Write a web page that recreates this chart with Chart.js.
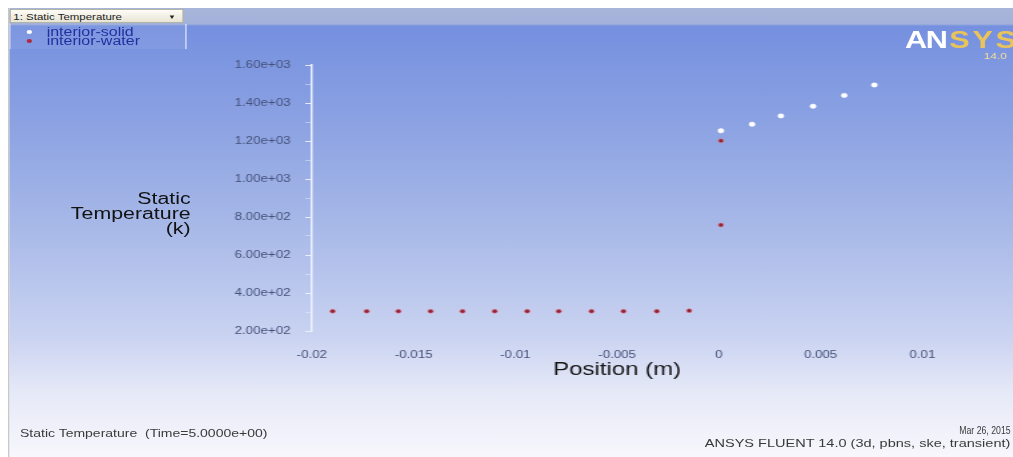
<!DOCTYPE html>
<html lang="en">
<head>
    <meta charset="UTF-8">
    <title>Static Temperature</title>
    <script src="https://cdn.jsdelivr.net/npm/chart.js"></script>
    <style>
        html, body { margin: 0; padding: 0; }
        body { width: 1013px; height: 457px; overflow: hidden; background: #ffffff; font-family: "Liberation Sans", Arial, sans-serif; }
        /* the whole window is drawn 760 wide and stretched out to 1013 */
        #stage { position: absolute; left: 0; top: 0; width: 760px; height: 457px; transform: scaleX(1.33289); transform-origin: 0 0; }
        #frame { position: absolute; left: 6px; top: 8px; right: 0; bottom: 0; border-left: 1px solid #c8c8cc;
                 background: linear-gradient(to bottom, #a7b5d9 0px, #a3b2da 16px, #7590df 18px, #8aa1e2 110px, #a8b9e8 220px, #cad3f1 330px, #e6e9f7 385px, #f7f7fc 449px); }
        #chart { position: absolute; left: 0; top: 0; }
        #picker { position: absolute; left: 7px; top: 9px; width: 131px; height: 14px; border: 1px solid #b4b4a6;
                  background: linear-gradient(#fdfcf6, #e8e5d5); font-size: 8.6px; line-height: 14px; color: #222; padding-left: 2px; box-sizing: border-box; }
        #picker span { position: absolute; right: 5px; top: 0; font-size: 6px; }
        #legend { position: absolute; left: 7px; top: 24px; width: 131px; height: 25px; border-left: 1px solid rgba(255,255,255,0.5);
                  border-right: 1px solid rgba(255,255,255,0.7); background: rgba(255,255,255,0.06); }
        .item { position: absolute; left: 0; font-size: 12px; line-height: 10px; color: #22309e; }
        .item i { position: absolute; left: 12px; top: 3px; width: 4px; height: 4px; border-radius: 50%; }
        .item b { position: absolute; left: 27px; top: 0; font-weight: normal; white-space: nowrap; }
        #logo { position: absolute; left: 679px; top: 27px; font-size: 23px; font-weight: bold; white-space: nowrap; }
        #logo .an { color: #ffffff; letter-spacing: -1px; }
        #logo .sys { color: #e9c45a; letter-spacing: 2px; margin-left: 2px; }
        #ver { position: absolute; left: 738px; top: 51px; font-size: 9px; color: #f3dc98; }
        #ytitle { position: absolute; right: 617px; top: 191px; font-size: 16px; line-height: 15px; color: #121212; text-align: right; white-space: nowrap; }
        #foot-left { position: absolute; left: 15px; top: 427px; font-size: 10.5px; color: #3a3a3a; white-space: nowrap; }
        #foot-right { position: absolute; right: 2px; top: 424px; font-size: 10.9px; line-height: 13px; color: #3a3a3a; text-align: right; white-space: nowrap; }
        #foot-right .date { display: inline-block; transform: scaleX(0.6); transform-origin: 100% 50%; }
    </style>
</head>
<body>
<div id="stage">
    <div id="frame"></div>
    <canvas id="chart" width="760" height="457"></canvas>
    <div id="picker">1: Static Temperature<span>&#9660;</span></div>
    <div id="legend">
        <div class="item" style="top:3px"><i style="background:#ffffff"></i><b>interior-solid</b></div>
        <div class="item" style="top:12px"><i style="background:#b02a3c"></i><b>interior-water</b></div>
    </div>
    <div id="logo"><span class="an">AN</span><span class="sys">SYS</span></div>
    <div id="ver">14.0</div>
    <div id="ytitle">Static<br>Temperature<br>(k)</div>
    <div id="foot-left">Static Temperature&nbsp; (Time=5.0000e+00)</div>
    <div id="foot-right"><span class="date">Mar 26, 2015</span><br>ANSYS FLUENT 14.0 (3d, pbns, ske, transient)</div>
</div>

<script>
    // position along the line (m) and static temperature (K)
    const solidX = [0.0001, 0.00163, 0.00305, 0.00463, 0.00616, 0.00764];
    const solidY = [1254, 1288, 1332, 1383, 1440, 1495];

    const waterX = [-0.01898, -0.01731, -0.01575, -0.01417, -0.0126, -0.01102, -0.00942, -0.00787, -0.00626, -0.00469, -0.00305, -0.00146, 0.0001, 0.0001];
    const waterY = [304, 304, 304, 304, 304, 304, 304, 304, 304, 304, 304, 307, 1201, 758];

    const xTicks = [-0.02, -0.015, -0.01, -0.005, 0, 0.005, 0.01];
    const xTickLabels = ['-0.02', '-0.015', '-0.01', '-0.005', '0', '0.005', '0.01'];

    const yTicks = [200, 400, 600, 800, 1000, 1200, 1400, 1600];
    const yTickLabels = ['2.00e+02', '4.00e+02', '6.00e+02', '8.00e+02', '1.00e+03', '1.20e+03', '1.40e+03', '1.60e+03'];

    const toPoints = (xs, ys) => xs.map((x, i) => ({ x: x, y: ys[i] }));

    // minor marks every 100 K between the labelled ones
    const yMarks = [];
    for (let v = yTicks[0]; v <= yTicks[yTicks.length - 1]; v += 100) yMarks.push(v);

    const tickFont = { family: 'Liberation Sans', size: 10 };

    new Chart(document.getElementById('chart').getContext('2d'), {
        type: 'scatter',
        data: {
            datasets: [
                {
                    label: 'interior-solid',
                    data: toPoints(solidX, solidY),
                    backgroundColor: '#ffffff',
                    borderColor: 'rgba(255,255,255,0.5)',
                    borderWidth: 1,
                    pointRadius: 2.2
                },
                {
                    label: 'interior-water',
                    data: toPoints(waterX, waterY),
                    backgroundColor: '#8e2636',
                    borderColor: 'rgba(236,120,140,0.55)',
                    borderWidth: 1,
                    pointRadius: 2
                }
            ]
        },
        options: {
            responsive: false,
            animation: false,
            layout: { padding: { left: 174, right: 68, top: 65, bottom: 76 } },
            plugins: { legend: { display: false }, tooltip: { enabled: false } },
            scales: {
                x: {
                    type: 'linear',
                    min: -0.02,
                    max: 0.01,
                    afterBuildTicks: (scale) => { scale.ticks = xTicks.map(v => ({ value: v })); },
                    afterFit: (scale) => { scale.height = 50; },
                    grid: { display: false },
                    border: { display: false },
                    ticks: {
                        autoSkip: false,
                        maxRotation: 0,
                        padding: 10,
                        color: '#45517a',
                        font: tickFont,
                        callback: (v) => { const i = xTicks.indexOf(v); return i >= 0 ? xTickLabels[i] : ''; }
                    },
                    title: {
                        display: true,
                        text: 'Position (m)',
                        color: '#161616',
                        font: { family: 'Liberation Sans', size: 18 },
                        padding: { top: 0, bottom: 0 }
                    }
                },
                y: {
                    type: 'linear',
                    min: 200,
                    max: 1600,
                    afterBuildTicks: (scale) => { scale.ticks = yMarks.map(v => ({ value: v })); },
                    afterFit: (scale) => { scale.width = 60; },
                    grid: {
                        drawOnChartArea: false,
                        drawTicks: true,
                        tickLength: 5,
                        color: (ctx) => yTicks.includes(ctx.tick && ctx.tick.value) ? 'rgba(240,244,255,0.9)' : 'rgba(240,244,255,0.45)'
                    },
                    border: { display: true, color: '#eef2ff', width: 1.5 },
                    ticks: {
                        autoSkip: false,
                        padding: 11,
                        color: '#45517a',
                        font: tickFont,
                        callback: (v) => { const i = yTicks.indexOf(v); return i >= 0 ? yTickLabels[i] : ''; }
                    }
                }
            }
        }
    });
</script>
</body>
</html>
